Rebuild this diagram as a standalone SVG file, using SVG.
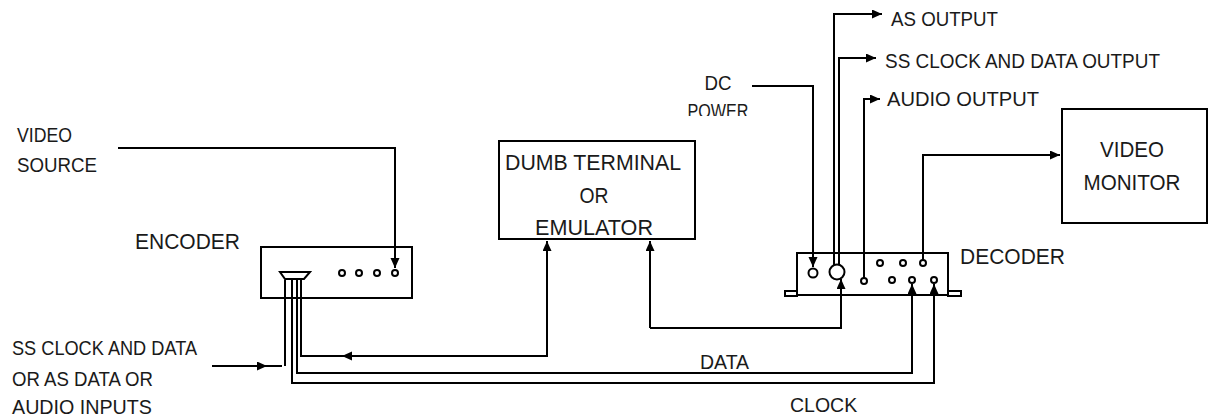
<svg xmlns="http://www.w3.org/2000/svg" width="1211" height="416" viewBox="0 0 1211 416">
<style>
.box{fill:none;stroke:#000;stroke-width:2}
.ln{fill:none;stroke:#000;stroke-width:2}
.port{fill:#fff;stroke:#000;stroke-width:2}
text{font-family:"Liberation Sans",Arial,sans-serif;fill:#1a1a1a}
.s{font-size:19.5px}
.m{font-size:22px}
</style>
<defs>
<marker id="ah" markerUnits="userSpaceOnUse" markerWidth="11" markerHeight="10" refX="10" refY="4.5" orient="auto">
<path d="M0,0 L10,4.5 L0,9 z" fill="#000"/>
</marker>
<clipPath id="pwclip"><rect x="0" y="0" width="1211" height="116"/></clipPath>
</defs>

<g id="connectors">
<path class="ln" d="M118,148 H395 V268" marker-end="url(#ah)"/>
<path class="ln" d="M752,86 H813 V267" marker-end="url(#ah)"/>
<path class="ln" d="M834,265 V14 H882" marker-end="url(#ah)"/>
<path class="ln" d="M839,265 V58 H876" marker-end="url(#ah)"/>
<path class="ln" d="M864,278 V99 H880" marker-end="url(#ah)"/>
<path class="ln" d="M923,260 V155 H1060" marker-end="url(#ah)"/>
<path class="ln" d="M297,280 V373 H912 V284" marker-end="url(#ah)"/>
<path class="ln" d="M292,280 V383 H934 V284" marker-end="url(#ah)"/>
<path class="ln" d="M301,278 V356 H547 V241" marker-end="url(#ah)"/>
<path class="ln" d="M547,356 H342" marker-end="url(#ah)"/>
<path class="ln" d="M650,328 V241" marker-end="url(#ah)"/>
<path class="ln" d="M650,328 H841 V279" marker-end="url(#ah)"/>
<path class="ln" d="M212,366 H267" marker-end="url(#ah)"/>
<path class="ln" d="M262,366 H282"/>
<path class="ln" d="M285,280 V366"/>
</g>

<g id="video-source">
<text class="s" x="17" y="142" textLength="55" lengthAdjust="spacingAndGlyphs">VIDEO</text>
<text class="s" x="17" y="172" textLength="80" lengthAdjust="spacingAndGlyphs">SOURCE</text>
</g>

<g id="encoder">
<rect class="box" x="261" y="247" width="151" height="51"/>
<polygon class="box" points="280,272 310,272 304,279 285,279"/>
<circle class="port" cx="342" cy="273" r="3"/>
<circle class="port" cx="359" cy="273" r="3"/>
<circle class="port" cx="377" cy="273" r="3"/>
<circle class="port" cx="395" cy="273" r="3"/>
<text class="m" x="135" y="249" textLength="105" lengthAdjust="spacingAndGlyphs">ENCODER</text>
</g>

<g id="dumb-terminal">
<rect class="box" x="499" y="141" width="196" height="98"/>
<text class="m" x="593" y="170" text-anchor="middle" textLength="176" lengthAdjust="spacingAndGlyphs">DUMB TERMINAL</text>
<text class="m" x="594" y="203" text-anchor="middle" textLength="29" lengthAdjust="spacingAndGlyphs">OR</text>
<text class="m" x="594" y="235" text-anchor="middle" textLength="118" lengthAdjust="spacingAndGlyphs">EMULATOR</text>
</g>

<g id="dc-power">
<text class="s" x="718" y="90" text-anchor="middle" textLength="27" lengthAdjust="spacingAndGlyphs">DC</text>
<text class="s" x="718" y="118" text-anchor="middle" textLength="61" lengthAdjust="spacingAndGlyphs" clip-path="url(#pwclip)">POWER</text>
</g>

<g id="outputs">
<text class="s" x="891" y="26" textLength="107" lengthAdjust="spacingAndGlyphs">AS OUTPUT</text>
<text class="s" x="885" y="68" textLength="275" lengthAdjust="spacingAndGlyphs">SS CLOCK AND DATA OUTPUT</text>
<text class="s" x="887" y="106" textLength="152" lengthAdjust="spacingAndGlyphs">AUDIO OUTPUT</text>
</g>

<g id="decoder">
<rect class="box" x="785" y="291" width="12" height="5"/>
<rect class="box" x="948" y="291" width="13" height="5"/>
<rect class="box" x="797" y="253" width="151" height="42"/>
<circle class="port" cx="813" cy="273" r="4.5"/>
<circle class="port" cx="837" cy="272" r="7.5"/>
<circle class="port" cx="864" cy="281" r="3"/>
<circle class="port" cx="880" cy="263" r="3"/>
<circle class="port" cx="903" cy="263" r="3"/>
<circle class="port" cx="923" cy="263" r="3"/>
<circle class="port" cx="892" cy="280" r="3"/>
<circle class="port" cx="912" cy="280" r="3"/>
<circle class="port" cx="934" cy="280" r="3"/>
<text class="m" x="960" y="264" textLength="105" lengthAdjust="spacingAndGlyphs">DECODER</text>
</g>

<g id="video-monitor">
<rect class="box" x="1062" y="109" width="145" height="114"/>
<text class="m" x="1132" y="157" text-anchor="middle" textLength="64" lengthAdjust="spacingAndGlyphs">VIDEO</text>
<text class="m" x="1132" y="190" text-anchor="middle" textLength="97" lengthAdjust="spacingAndGlyphs">MONITOR</text>
</g>

<g id="inputs-label">
<text class="s" x="12" y="355" textLength="185" lengthAdjust="spacingAndGlyphs">SS CLOCK AND DATA</text>
<text class="s" x="12" y="386" textLength="141" lengthAdjust="spacingAndGlyphs">OR AS DATA OR</text>
<text class="s" x="12" y="414" textLength="140" lengthAdjust="spacingAndGlyphs">AUDIO INPUTS</text>
</g>

<g id="line-labels">
<text class="s" x="700" y="369">DATA</text>
<text class="s" x="790" y="412">CLOCK</text>
</g>
</svg>
